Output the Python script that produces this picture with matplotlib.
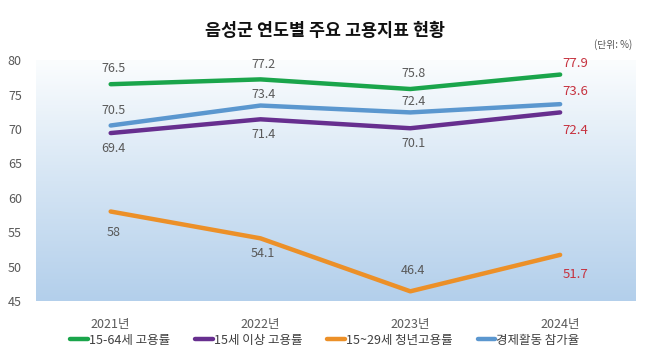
import numpy as np
import matplotlib
matplotlib.use("Agg")
import matplotlib.pyplot as plt
from matplotlib.colors import LinearSegmentedColormap

plt.rcParams['font.family'] = ['Noto Sans CJK KR', 'DejaVu Sans']

# --- 데이터 ---
years = ['2021년', '2022년', '2023년', '2024년']
emp_15_64 = [76.5, 77.2, 75.8, 77.9]
emp_15_up = [69.4, 71.4, 70.1, 72.4]
emp_youth = [58, 54.1, 46.4, 51.7]
participation = [70.5, 73.4, 72.4, 73.6]

series_names = ['15-64세 고용률', '15세 이상 고용률', '15~29세 청년고용률', '경제활동 참가율']
colors = ['#1aa54b', '#672f8f', '#ec9028', '#5b97cf']

# 라벨 위치 (1 = 위, -1 = 아래), 마지막 해는 오른쪽에 빨간색
label_side = [
    [1, 1, 1, 1],
    [-1, -1, -1, -1],
    [-1, -1, 1, -1],
    [1, 1, 1, 1],
]

fig = plt.figure(figsize=(6.5, 3.6), dpi=100)
ax = fig.add_axes([0.055, 0.164, 0.922, 0.669])

# 배경 그라데이션
cmap = LinearSegmentedColormap.from_list('bg', ['#fbfdfe', '#d5e5f4', '#b3cfeb'])
grad = np.linspace(0, 1, 256).reshape(-1, 1)
ax.imshow(grad, cmap=cmap, aspect='auto', extent=(-0.5, 3.5, 45, 80),
          origin='upper', zorder=0)

x = np.arange(len(years))
all_series = [emp_15_64, emp_15_up, emp_youth, participation]
for vals, name, c in zip(all_series, series_names, colors):
    ax.plot(x, vals, color=c, lw=3.2, solid_capstyle='round', label=name, zorder=3)

# 2024 라벨 오프셋 (초록, 보라, 주황, 파랑 순)
last_offsets = [(11, 8), (11, -13), (11, -14), (11, 9)]
for s, vals in enumerate(all_series):
    for i, v in enumerate(vals):
        txt = f'{v:g}'
        if i == len(vals) - 1:
            ax.annotate(txt, (x[i], v), xytext=last_offsets[s], textcoords='offset points',
                        ha='center', va='center', fontsize=9.5, color='#c6323f', zorder=4)
        else:
            dy = 11 * label_side[s][i]
            if s == 2 and i == 2:
                dy = 15
            if s == 2 and i == 0:
                dy = -15
            if s == 3 and i > 0:
                dy = 8
            ax.annotate(txt, (x[i], v), xytext=(2, dy), textcoords='offset points',
                        ha='center', va='center', fontsize=9, color='#595959', zorder=4)

ax.set_xlim(-0.5, 3.5)
ax.set_ylim(45, 80)
ax.set_yticks(range(45, 81, 5))
ax.set_xticks(x)
ax.set_xticklabels(years)
ax.tick_params(length=0, labelsize=9, colors='#595959')
ax.tick_params(axis='y', pad=10)
ax.tick_params(axis='x', pad=12)
for sp in ax.spines.values():
    sp.set_visible(False)

fig.text(0.5, 0.915, '음성군 연도별 주요 고용지표 현황', ha='center', va='center',
         fontsize=12.5, fontweight='bold', color='#111111')
fig.text(0.972, 0.875, '(단위: %)', ha='right', va='center', fontsize=7, color='#555555')

fig.legend(loc='center', bbox_to_anchor=(0.5, 0.055), ncol=4, frameon=False,
           fontsize=9, handlelength=1.4, handletextpad=0.1, columnspacing=2.0,
           labelcolor='#404040')

fig.savefig('out.png', dpi=100)
